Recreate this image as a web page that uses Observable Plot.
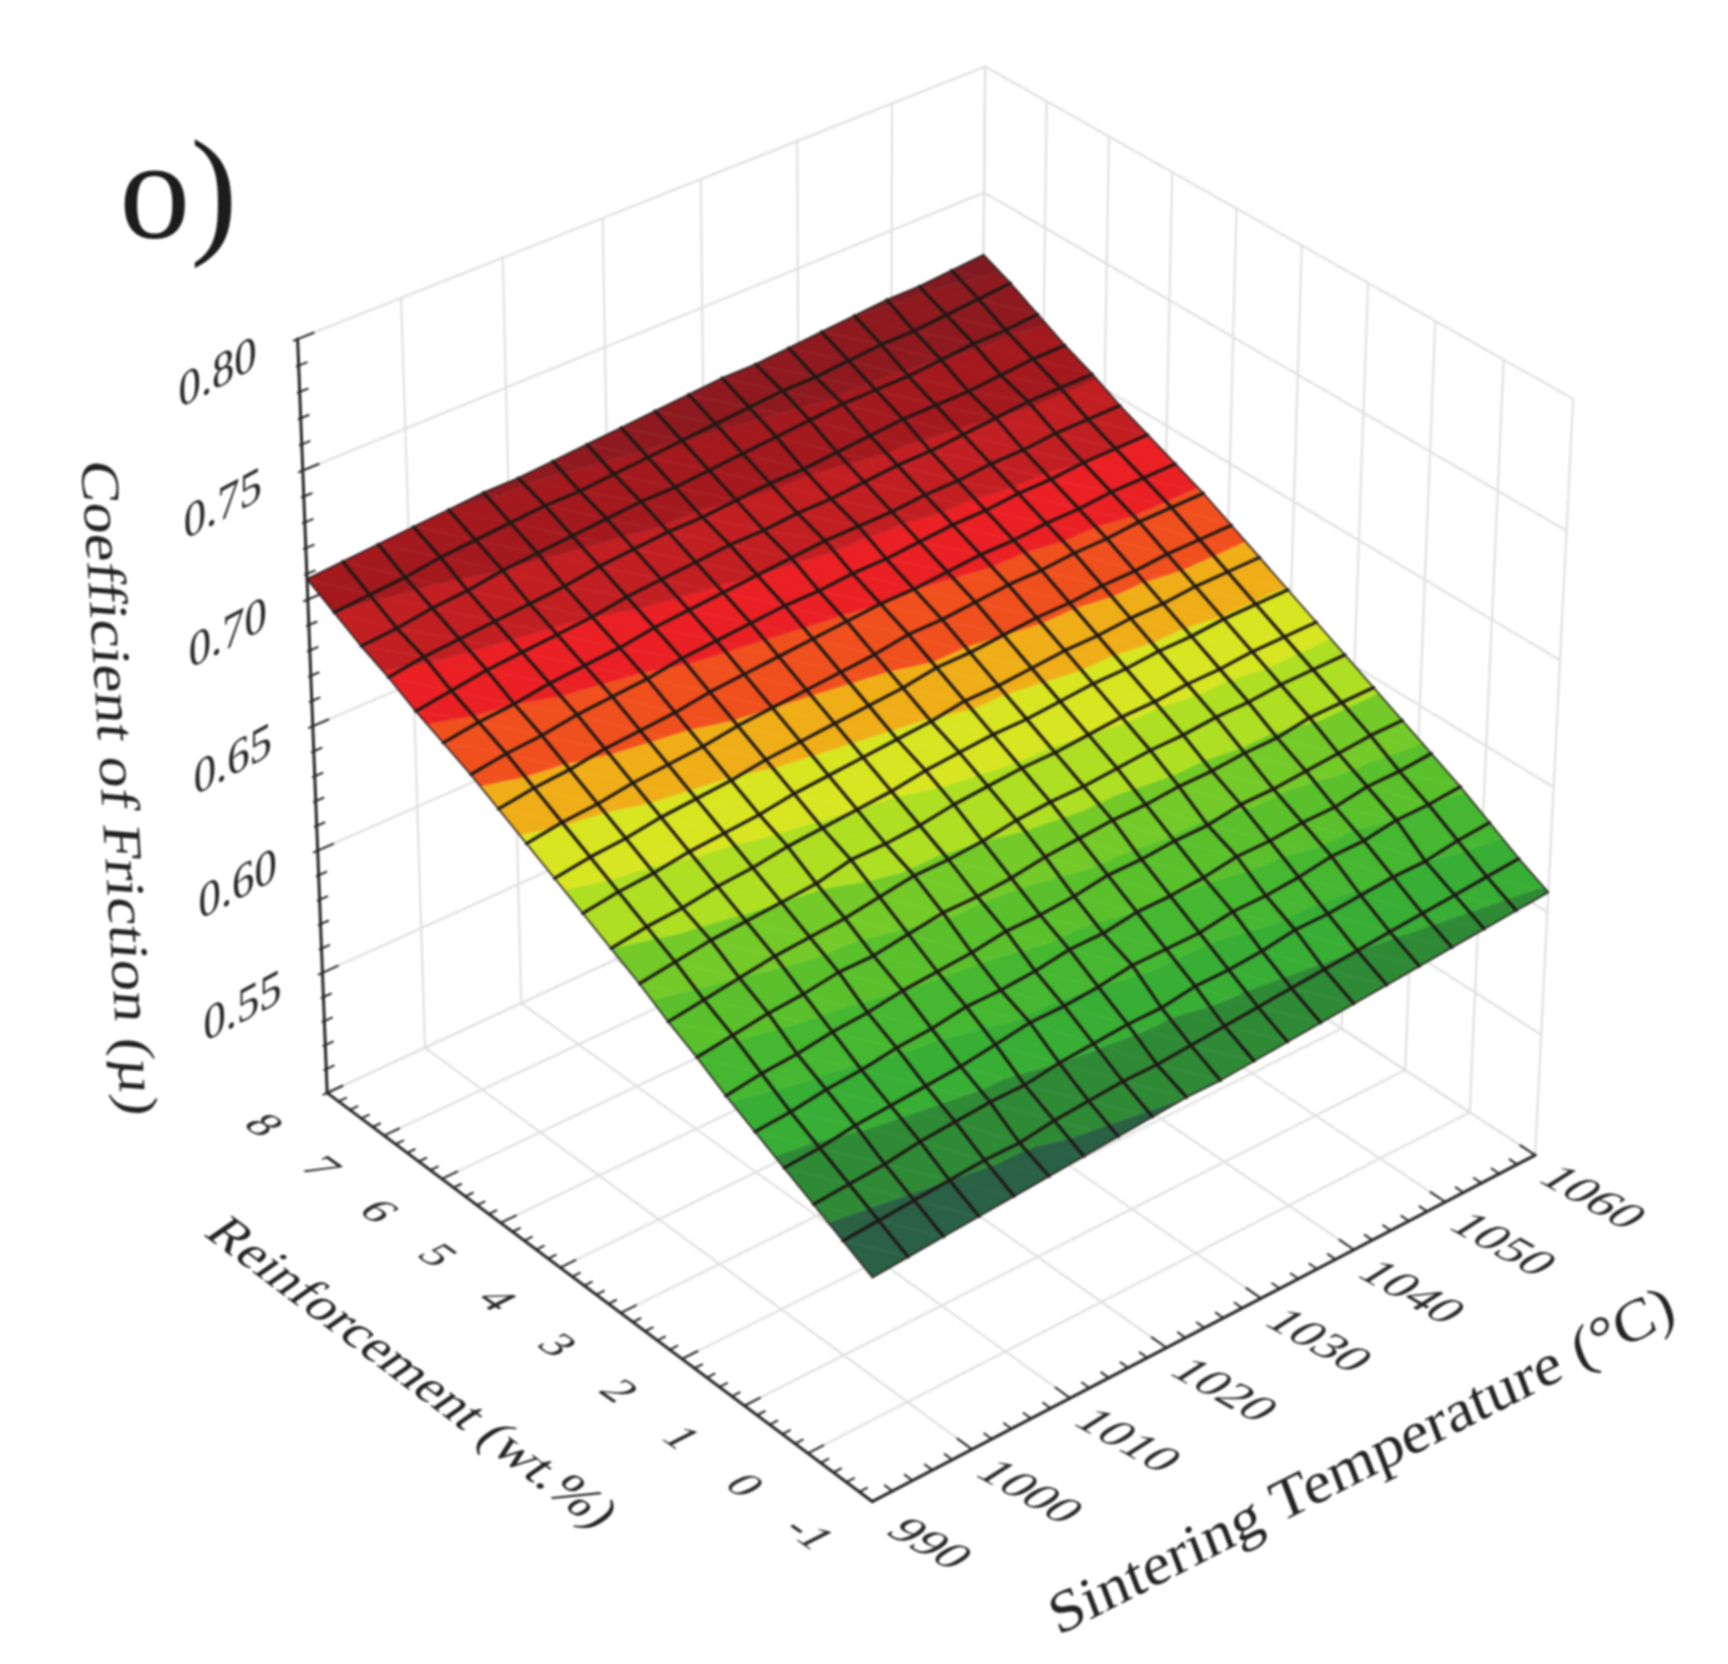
<!DOCTYPE html>
<html><head><meta charset="utf-8">
<style>html,body{margin:0;padding:0;background:#fff}svg{display:block;filter:blur(.8px)}</style>
<script src="https://cdn.jsdelivr.net/npm/d3@7"></script>
<script src="https://cdn.jsdelivr.net/npm/@observablehq/plot@0.6"></script>
</head><body><div id="chart"></div>
<script>
// axis ticks
const muTicks=[0.50,0.55,0.60,0.65,0.70,0.75,0.80];
const muLabels=[0.55,0.60,0.65,0.70,0.75,0.80];
const tempTicks=[990,1000,1010,1020,1030,1040,1050,1060];
const reinfTicks=[-1,0,1,2,3,4,5,6,7,8];
// surface grid axes
const tempGrid=[990,993.5,997,1000.5,1004,1007.5,1011,1014.5,1018,1021.5,1025,1028.5,1032,1035.5,1039,1042.5,1046,1049.5,1053,1056.5,1060];
const reinfGrid=[8,7.55,7.1,6.65,6.2,5.75,5.3,4.85,4.4,3.95,3.5,3.05,2.6,2.15,1.7,1.25,0.8,0.35,-0.1,-0.55,-1];
// coefficient of friction, in thousandths, one row per reinfGrid value
const muRows=[
[708,709,710,711,712,713,713,714,715,716,717,718,719,719,720,721,722,723,723,724,725],
[702,703,704,706,707,708,709,709,710,711,712,713,714,715,715,716,717,717,718,719,720],
[696,697,699,700,702,703,704,705,706,706,707,708,709,710,711,711,711,712,713,713,714],
[691,693,694,695,696,697,699,700,701,701,702,703,703,704,705,706,706,706,707,708,708],
[685,687,689,690,691,692,694,695,696,697,697,698,698,699,700,700,701,702,703,703,703],
[680,682,683,685,686,687,689,690,691,692,693,694,694,694,695,695,696,696,697,697,697],
[675,677,678,680,681,682,684,685,686,687,687,688,688,689,690,690,691,691,692,692,692],
[669,671,672,674,675,676,678,679,680,681,682,683,683,684,685,685,686,686,687,687,687],
[663,665,666,668,669,670,672,673,674,675,676,678,678,679,680,680,681,681,682,682,682],
[657,659,660,662,663,664,666,667,668,669,670,672,672,673,674,674,675,675,676,676,676],
[651,653,654,656,657,658,660,661,662,663,664,666,666,667,668,668,669,669,670,670,670],
[645,647,648,650,651,653,654,655,656,658,659,660,660,661,662,662,663,663,664,664,664],
[639,641,643,644,645,646,649,649,650,652,653,654,654,655,656,656,657,657,658,658,658],
[632,634,636,638,639,640,642,644,644,645,647,648,648,649,650,650,651,651,652,652,652],
[626,628,630,631,633,633,635,637,637,638,640,641,642,642,643,643,644,644,646,646,646],
[619,621,622,624,625,627,628,629,631,631,632,634,634,635,635,637,637,638,639,640,640],
[613,614,616,617,619,620,622,622,623,625,625,627,627,628,630,630,631,631,633,633,634],
[607,608,610,611,612,613,615,617,617,618,620,620,620,622,622,623,625,625,627,627,628],
[601,602,603,605,606,607,607,609,610,611,611,613,613,614,616,616,617,618,618,620,621],
[595,596,597,598,599,599,601,602,603,603,604,605,606,607,608,609,610,611,612,613,614],
[589,590,591,592,593,594,595,596,597,598,598,599,600,601,602,603,604,605,606,607,608]
];
// colour bands
const bandLevels=[0.598,0.609,0.618,0.627,0.636,0.645,0.655,0.6645,0.673,0.683,0.692,0.702,0.712,0.722];
const bandColors=["#2a6144","#2f8a36","#38ae35","#46b730","#5ac02c","#74ca28","#aedf22","#d8e521","#efae18","#f0501e","#ea2024","#c21f22","#a3191e","#8e1a1f","#801a20"];

// camera: where six box corners fall on the page
const camera=[
 {u:0,v:0,w:0,x:871,y:1501},{u:1,v:0,w:0,x:1535,y:1154},{u:0,v:1,w:0,x:327,y:1093},
 {u:0,v:1,w:1,x:297.5,y:338},{u:1,v:1,w:1,x:984,y:66},{u:1,v:0,w:1,x:1573,y:399}];
function solve(A,b){const n=b.length;const M=A.map((r,i)=>[...r,b[i]]);
 for(let c=0;c<n;c++){let p=c;for(let r=c+1;r<n;r++)if(Math.abs(M[r][c])>Math.abs(M[p][c]))p=r;[M[c],M[p]]=[M[p],M[c]];
  for(let r=0;r<n;r++)if(r!==c){const f=M[r][c]/M[c][c];for(let k=c;k<=n;k++)M[r][k]-=f*M[c][k];}}
 return M.map((r,i)=>r[n]/r[i]);}
const S=1000,rowsA=[],rowsB=[];
for(const {u,v,w,x,y} of camera){const X=x/S,Y=y/S;
 rowsA.push([1,u,v,w,0,0,0,0,-X*u,-X*v,-X*w]);rowsB.push(X);
 rowsA.push([0,0,0,0,1,u,v,w,-Y*u,-Y*v,-Y*w]);rowsB.push(Y);}
const AtA=Array.from({length:11},(_,i)=>Array.from({length:11},(_,j)=>d3.sum(rowsA,r=>r[i]*r[j])));
const Atb=Array.from({length:11},(_,i)=>d3.sum(rowsA,(r,k)=>r[i]*rowsB[k]));
const h=solve(AtA,Atb);
const uOf=t=>(t-990)/70, vOf=r=>(r+1)/9, wOf=m=>(m-0.5)/0.3;
const proj=(u,v,w)=>{const d=1+h[8]*u+h[9]*v+h[10]*w;
 return [S*(h[0]+h[1]*u+h[2]*v+h[3]*w)/d,S*(h[4]+h[5]*u+h[6]*v+h[7]*w)/d];};
const pt=(u,v,w,extra={})=>{const [x,y]=proj(u,v,w);return {x,y,...extra};};
const seg=(id,a,b)=>[pt(...a,{id}),pt(...b,{id})];

// walls and floor
const grid=[];
tempTicks.forEach(t=>{const u=uOf(t);
 grid.push(...seg("tw"+t,[u,1,0],[u,1,1]),...seg("tf"+t,[u,0,0],[u,1,0]));});
reinfTicks.forEach(r=>{const v=vOf(r);
 grid.push(...seg("rw"+r,[1,v,0],[1,v,1]),...seg("rf"+r,[0,v,0],[1,v,0]));});
muTicks.forEach(m=>{const w=wOf(m);
 grid.push(...seg("ml"+m,[0,1,w],[1,1,w]),...seg("mr"+m,[1,1,w],[1,0,w]));});

// axes and ticks
const axes=[...seg("az",[0,1,0],[0,1,1]),...seg("ar",[0,0,0],[0,1,0]),...seg("at",[0,0,0],[1,0,0])];
const ticks=[];
for(let k=0;k<=30;k++){const m=0.5+k*0.01,w=wOf(m),L=k%5===0?0.022:0.011;ticks.push(...seg("zt"+k,[0,1,w],[L,1,w]),...seg("zb"+k,[0,1,w],[-L*0.25,1,w]));}
for(let k=0;k<=45;k++){const v=k/45,L=k%5===0?0.022:0.011;ticks.push(...seg("rt"+k,[0,v,0],[L,v,0]));}
for(let k=0;k<=35;k++){const u=k/35,L=k%5===0?0.025:0.013;ticks.push(...seg("tt"+k,[u,0,0],[u,L,0]));}

// surface
const nI=tempGrid.length,nJ=reinfGrid.length;
const node=(i,j)=>({u:uOf(tempGrid[i]),v:vOf(reinfGrid[j]),m:muRows[j][i]/1000});
const bounds=[-Infinity,...bandLevels,Infinity];
function clip(poly,level,keepAbove){const out=[];
 for(let k=0;k<poly.length;k++){const a=poly[k],b=poly[(k+1)%poly.length];
  const ia=keepAbove?a.m>=level:a.m<level, ib=keepAbove?b.m>=level:b.m<level;
  if(ia)out.push(a);
  if(ia!==ib){const t=(level-a.m)/(b.m-a.m);out.push({u:a.u+t*(b.u-a.u),v:a.v+t*(b.v-a.v),m:level});}}
 return out;}
const patches=[];let pid=0;
for(let j=0;j<nJ-1;j++)for(let i=0;i<nI-1;i++){
 const a=node(i,j),b=node(i+1,j),c=node(i+1,j+1),d=node(i,j+1);
 for(const tri of [[a,b,c],[a,c,d]]){
  for(let s=0;s<bounds.length-1;s++){
   let p=tri;
   if(isFinite(bounds[s]))p=clip(p,bounds[s],true);
   if(p.length&&isFinite(bounds[s+1]))p=clip(p,bounds[s+1],false);
   if(p.length<3)continue;
   const lev=!isFinite(bounds[s])?bounds[s+1]-0.005:!isFinite(bounds[s+1])?bounds[s]+0.005:(bounds[s]+bounds[s+1])/2;
   pid++;
   p.forEach(q=>patches.push(pt(q.u,q.v,wOf(q.m),{id:pid,level:lev})));
  }}}
const meshIn=[],meshEdge=[];
for(let j=0;j<nJ;j++){const t=(j===0||j===nJ-1)?meshEdge:meshIn;
 for(let i=0;i<nI;i++){const n=node(i,j);t.push(pt(n.u,n.v,wOf(n.m),{id:"r"+j}));}}
for(let i=0;i<nI;i++){const t=(i===0||i===nI-1)?meshEdge:meshIn;
 for(let j=0;j<nJ;j++){const n=node(i,j);t.push(pt(n.u,n.v,wOf(n.m),{id:"c"+i}));}}

// labels
const zl=muLabels.map(m=>pt(0,1,wOf(m),{t:m.toFixed(2)}));
const rl=reinfTicks.map(r=>pt(0,vOf(r),0,{t:String(r)}));
const tl=tempTicks.map(t=>pt(uOf(t),0,0,{t:String(t)}));
const titles=[
 {x:118,y:788,t:"Coefficient of Friction (µ)",r:86.5,s:54,cls:"ttl-z"},
 {x:412,y:1372,t:"Reinforcement (wt.%)",r:37,s:50,cls:"ttl-r"},
 {x:1361,y:1460,t:"Sintering Temperature (°C)",r:-27,s:58,cls:"ttl-t"}];
const serif="Liberation Serif";
const ink="#262626";
const lineP={x:"x",y:"y",z:"id"};
const chart=Plot.plot({
 width:1728,height:1664,margin:0,
 x:{domain:[0,1728],range:[0,1728],axis:null},
 y:{domain:[0,1664],range:[0,1664],axis:null},
 color:{type:"threshold",domain:bandLevels,range:bandColors},
 marks:[
  Plot.line(grid,{...lineP,stroke:"#e0e0e0",strokeWidth:2.2}),
  Plot.line(ticks,{...lineP,stroke:ink,strokeWidth:2}),
  Plot.line(axes,{...lineP,stroke:ink,strokeWidth:3}),
  Plot.line(patches,{...lineP,fill:"level",stroke:"level",strokeWidth:0.7,strokeLinejoin:"round"}),
  Plot.line(meshIn,{...lineP,stroke:"#1f1815",strokeWidth:3.2}),
  Plot.line(meshEdge,{...lineP,stroke:"#2a2220",strokeWidth:1.6}),
  Plot.text(zl,{x:"x",y:"y",text:"t",dx:-80,dy:33,rotate:-28,fontSize:44,fontFamily:serif,fill:ink,className:"lab-z"}),
  Plot.text(rl,{x:"x",y:"y",text:"t",dx:-63,dy:32,rotate:35,fontSize:40,fontFamily:serif,fill:ink,className:"lab-r"}),
  Plot.text(tl,{x:"x",y:"y",text:"t",dx:58,dy:42,rotate:29.5,fontSize:42,fontFamily:serif,fill:ink,className:"lab-t"}),
  ...titles.map(d=>Plot.text([d],{x:"x",y:"y",text:"t",rotate:"r",fontSize:d.s,fontFamily:serif,fill:"#222",className:d.cls})),
  Plot.text(["o)"],{x:[178],y:[237],text:d=>d,fontSize:142,fontFamily:serif,fill:"#1c1c1c",textAnchor:"middle",lineAnchor:"bottom"})
 ]
});
document.getElementById("chart").appendChild(chart);
const extra={"lab-z":" skewX(-28) scale(1.15,1)","lab-r":" skewX(-28) scale(1.15,1)","lab-t":" skewX(-28) scale(1.22,1)",
 "ttl-z":" skewX(-8) scale(1.16,1)","ttl-r":" skewX(-18) scale(1.1,1)","ttl-t":" skewX(-6) scale(1.1,1)"};
for(const c in extra)chart.querySelectorAll("."+c+" text").forEach(e=>e.setAttribute("transform",(e.getAttribute("transform")||"")+extra[c]));
</script></body></html>
